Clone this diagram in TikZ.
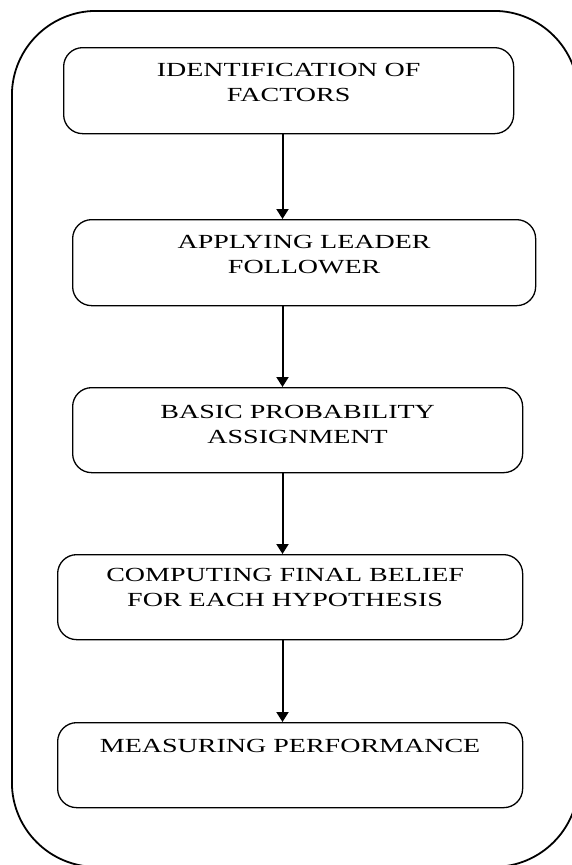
\documentclass[tikz,border=0pt]{standalone}
\usepackage{fontspec}
\newfontfamily\boxfont[FakeStretch=1.4]{Liberation Serif}
\usetikzlibrary{arrows.meta}
\tikzset{
  stagebox/.style={draw=black, line width=1.3pt, rounded corners=19pt, inner sep=0pt, anchor=north west},
  stagetext/.style={anchor=north, inner sep=0pt, align=center, font=\boxfont\fontsize{20}{25}\selectfont},
  flowarrow/.style={draw=black, line width=2pt, -{Triangle[width=12pt,length=10pt]}},
  outerframe/.style={draw=black, line width=1.8pt, rounded corners=84.5pt}
}
\begin{document}
\begin{tikzpicture}[x=1pt,y=-1pt]
\useasboundingbox (0,0) rectangle (571,865);
\node[outerframe, minimum width=566.5pt, minimum height=856pt, anchor=north west, inner sep=0pt] (frame) at (11,10) {};
\node[stagebox, minimum width=450pt, minimum height=86pt] (b1) at (63,47) {};
\node[stagebox, minimum width=463pt, minimum height=86pt] (b2) at (72,219) {};
\node[stagebox, minimum width=450pt, minimum height=85pt] (b3) at (72,387) {};
\node[stagebox, minimum width=465pt, minimum height=85pt] (b4) at (57,554) {};
\node[stagebox, minimum width=465pt, minimum height=85pt] (b5) at (57,722) {};
\node[stagetext] (t1) at ([yshift=-16.5pt]b1.north) {IDENTIFICATION OF\\FACTORS};
\node[stagetext] (t2) at ([yshift=-16pt]b2.north) {APPLYING LEADER\\FOLLOWER};
\node[stagetext] (t3) at ([yshift=-18pt]b3.north) {BASIC PROBABILITY\\ASSIGNMENT};
\node[stagetext] (t4) at ([yshift=-14pt,xshift=-5pt]b4.north) {COMPUTING FINAL BELIEF\\FOR EACH HYPOTHESIS};
\node[stagetext] (t5) at ([yshift=-17pt]b5.north) {MEASURING PERFORMANCE};
\coordinate (ax) at (282.5,0);
\draw[flowarrow] (b1.south -| ax) -- (b2.north -| ax);
\draw[flowarrow] (b2.south -| ax) -- (b3.north -| ax);
\draw[flowarrow] (b3.south -| ax) -- (b4.north -| ax);
\draw[flowarrow] (b4.south -| ax) -- (b5.north -| ax);
\end{tikzpicture}
\end{document}
